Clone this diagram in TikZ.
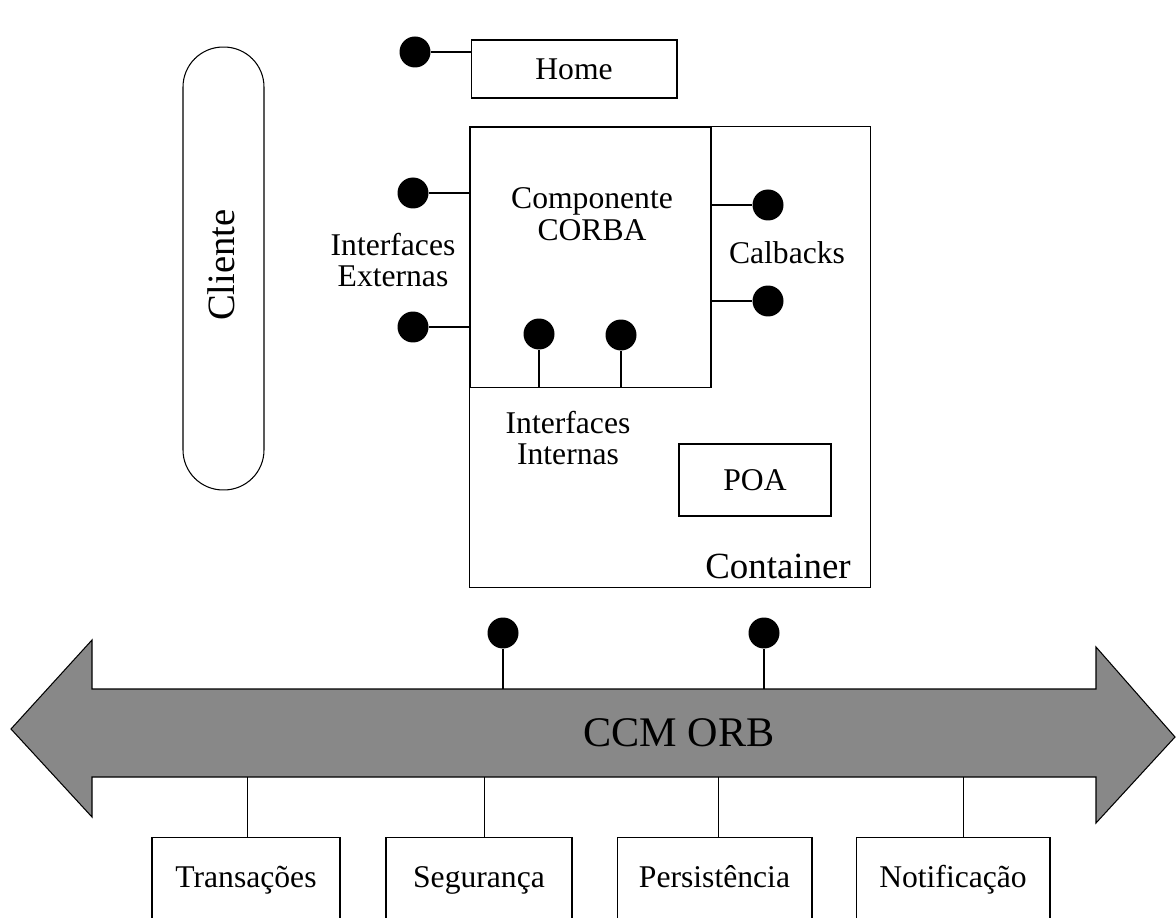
\documentclass[tikz,border=0pt]{standalone}
\usepackage{fontspec}
\setmainfont{Liberation Serif}
\definecolor{busgray}{RGB}{136, 136, 136}
\usetikzlibrary{positioning, calc}

\begin{document}
\begin{tikzpicture}[x=0.02cm, y=-0.02cm, line width=0.6pt,
    every node/.style={font=\fontsize{18}{18}\selectfont, inner sep=0pt},
    box/.style={draw, rectangle},
    svcbox/.style={draw, rectangle, minimum height=1.7cm, text height=13pt, text depth=4pt},
    dot/.style={circle, fill=black, minimum size=0.62cm},
    lbl/.style={align=center}]
    \useasboundingbox (0,0) rectangle (1176,918);
    \clip (0,0) rectangle (1176,918);

    % cliente
    \node [box, rounded corners=0.8cm, minimum width=1.62cm, minimum height=8.86cm] (cli) at (223.5,268.5) {};
    \node [rotate=90, font=\fontsize{22}{22}\selectfont] (clitxt) at (221,265) {Cliente};

    % home
    \node [box, minimum width=4.12cm, minimum height=1.16cm] (home) at (574,69) {Home};
    \node [dot] (hd) at (415,52) {};
    \draw (hd) -- (hd -| home.west);

    % container
    \node [box, minimum width=8.04cm, minimum height=9.24cm] (cont) at (670,357) {};
    \node [font=\fontsize{21}{21}\selectfont] (conttxt) at (778,566) {Container};
    \node [box, minimum width=4.82cm, minimum height=5.22cm] (comp) at (590.5,257.5) {};
    \node [lbl, font=\fontsize{18}{18.5}\selectfont] (comptxt) at (592,214) {Componente\\CORBA};
    \node [box, minimum width=3.04cm, minimum height=1.44cm] (poa) at (755,480) {POA};

    % interfaces externas
    \node [dot] (e1) at (413,193) {};
    \node [dot] (e2) at (413,327) {};
    \draw (e1) -- (e1 -| comp.west);
    \draw (e2) -- (e2 -| comp.west);
    \node [lbl, font=\fontsize{18}{17.6}\selectfont] (exttxt) at (393,260) {Interfaces\\Externas};

    % interfaces internas
    \node [dot] (i1) at (539,334) {};
    \node [dot] (i2) at (621,335) {};
    \draw (i1) -- (i1 |- comp.south);
    \draw (i2) -- (i2 |- comp.south);
    \node [lbl, font=\fontsize{18}{17.6}\selectfont] (inttxt) at (568,438) {Interfaces\\Internas};

    % calbacks
    \node [dot] (c1) at (768,205) {};
    \node [dot] (c2) at (768,301) {};
    \draw (c1) -- (c1 -| comp.east);
    \draw (c2) -- (c2 -| comp.east);
    \node (cbtxt) at (787,253) {Calbacks};

    % barramento
    \draw [fill=busgray] (11,729) -- (92,640) -- (92,689) -- (1096,689) -- (1096,647) -- (1175,737)
        -- (1096,823) -- (1096,777) -- (92,777) -- (92,817) -- cycle;
    \coordinate (bust) at (600,689);
    \coordinate (busb) at (600,777);
    \node [font=\fontsize{24}{24}\selectfont] (orb) at (679,733) {CCM ORB};
    \node [dot] (b1) at (503,633) {};
    \node [dot] (b2) at (764,633) {};
    \draw (b1) -- (b1 |- bust);
    \draw (b2) -- (b2 |- bust);

    % servicos
    \node [svcbox, minimum width=3.76cm] (tra) at (246,880) {Transações};
    \node [svcbox, minimum width=3.72cm] (seg) at (479,880) {Segurança};
    \node [svcbox, minimum width=3.9cm] (per) at (714.5,880) {Persistência};
    \node [svcbox, minimum width=3.88cm] (not) at (953,880) {Notificação};
    \draw ([xshift=1]tra.north) -- ([xshift=1]tra.north |- busb);
    \draw ([xshift=3]seg.north) -- ([xshift=3]seg.north |- busb);
    \draw ([xshift=2.5]per.north) -- ([xshift=2.5]per.north |- busb);
    \draw ([xshift=6]not.north) -- ([xshift=6]not.north |- busb);
\end{tikzpicture}
\end{document}
